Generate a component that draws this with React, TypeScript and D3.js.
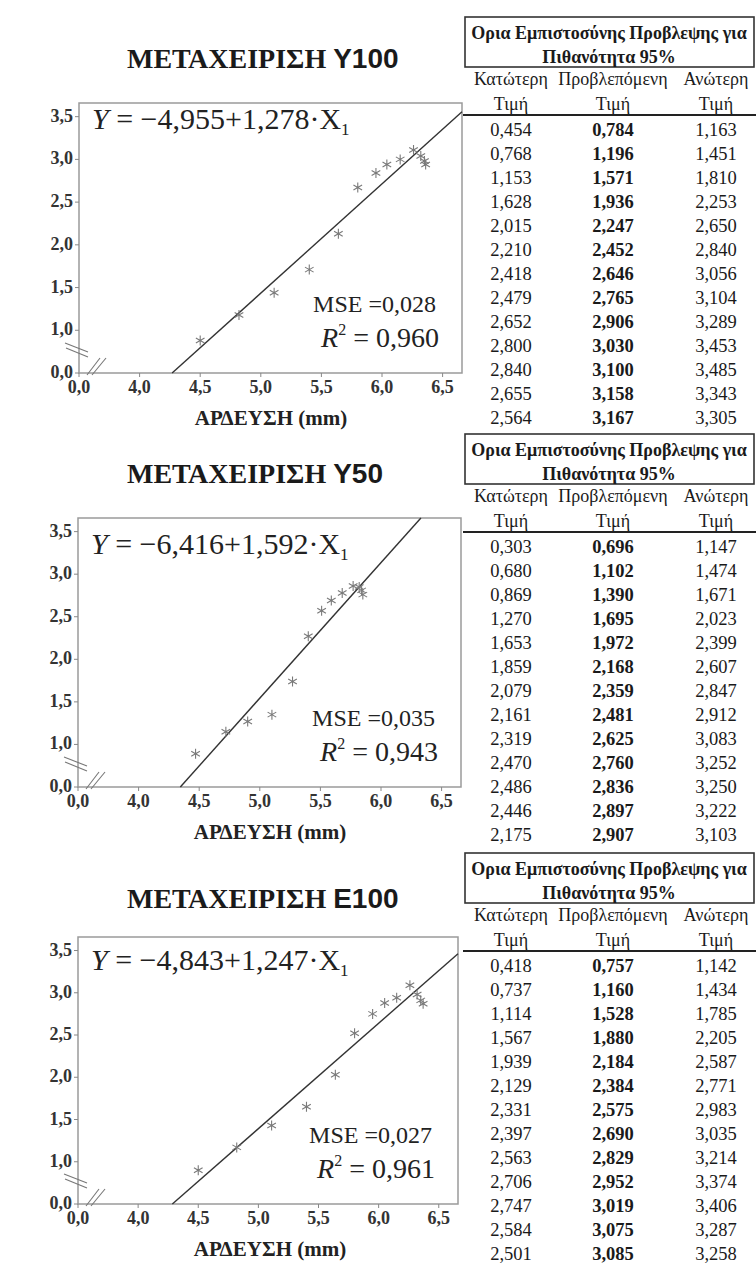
import React from "react";
import * as d3 from "d3";

// ---------- DATA ----------
const treatmentCodes = ["Y100", "Y50", "E100"];
const intercepts = [-4.955, -6.416, -4.843];
const slopes = [1.278, 1.592, 1.247];
const mseLabels = ["0,028", "0,035", "0,027"];
const r2Labels = ["0,960", "0,943", "0,961"];

const xY100 = [4.5, 4.82, 5.11, 5.4, 5.64, 5.8, 5.95, 6.04, 6.15, 6.26, 6.32, 6.35, 6.36];
const yY100 = [0.88, 1.18, 1.44, 1.71, 2.13, 2.67, 2.84, 2.94, 3.0, 3.11, 3.04, 2.98, 2.94];
const xY50 = [4.47, 4.72, 4.9, 5.1, 5.27, 5.4, 5.51, 5.59, 5.68, 5.77, 5.82, 5.84, 5.85];
const yY50 = [0.89, 1.15, 1.27, 1.35, 1.74, 2.27, 2.57, 2.69, 2.78, 2.86, 2.85, 2.81, 2.76];
const xE100 = [4.5, 4.82, 5.11, 5.4, 5.64, 5.8, 5.95, 6.05, 6.15, 6.26, 6.32, 6.35, 6.37];
const yE100 = [0.9, 1.17, 1.43, 1.65, 2.03, 2.52, 2.75, 2.88, 2.94, 3.09, 2.98, 2.91, 2.87];

const xTickValues = [3.5, 4.0, 4.5, 5.0, 5.5, 6.0, 6.5];
const xTickLabels = ["0,0", "4,0", "4,5", "5,0", "5,5", "6,0", "6,5"];
const yTickValues = [0.5, 1.0, 1.5, 2.0, 2.5, 3.0, 3.5];
const yTickLabels = ["0,0", "1,0", "1,5", "2,0", "2,5", "3,0", "3,5"];
const xDomain = [3.5, 6.66];
const yDomain = [0.5, 3.66];

const lowerY100 = [0.454, 0.768, 1.153, 1.628, 2.015, 2.21, 2.418, 2.479, 2.652, 2.8, 2.84, 2.655, 2.564];
const predY100 = [0.784, 1.196, 1.571, 1.936, 2.247, 2.452, 2.646, 2.765, 2.906, 3.03, 3.1, 3.158, 3.167];
const upperY100 = [1.163, 1.451, 1.81, 2.253, 2.65, 2.84, 3.056, 3.104, 3.289, 3.453, 3.485, 3.343, 3.305];
const lowerY50 = [0.303, 0.68, 0.869, 1.27, 1.653, 1.859, 2.079, 2.161, 2.319, 2.47, 2.486, 2.446, 2.175];
const predY50 = [0.696, 1.102, 1.39, 1.695, 1.972, 2.168, 2.359, 2.481, 2.625, 2.76, 2.836, 2.897, 2.907];
const upperY50 = [1.147, 1.474, 1.671, 2.023, 2.399, 2.607, 2.847, 2.912, 3.083, 3.252, 3.25, 3.222, 3.103];
const lowerE100 = [0.418, 0.737, 1.114, 1.567, 1.939, 2.129, 2.331, 2.397, 2.563, 2.706, 2.747, 2.584, 2.501];
const predE100 = [0.757, 1.16, 1.528, 1.88, 2.184, 2.384, 2.575, 2.69, 2.829, 2.952, 3.019, 3.075, 3.085];
const upperE100 = [1.142, 1.434, 1.785, 2.205, 2.587, 2.771, 2.983, 3.035, 3.214, 3.374, 3.406, 3.287, 3.258];

const tableTitle1 = "Ορια Εμπιστοσύνης Προβλεψης για";
const tableTitle2 = "Πιθανότητα 95%";
const colHeaders = ["Κατώτερη", "Προβλεπόμενη", "Ανώτερη"];
const colSub = "Τιμή";
const xAxisTitle = "ΑΡΔΕΥΣΗ (mm)";
const titlePrefix = "ΜΕΤΑΧΕΙΡΙΣΗ ";

// ---------- LAYOUT ----------
const W = 756;
const H = 1263;
const SERIF = "'Liberation Serif', 'Times New Roman', Times, serif";
const SANS = "'Liberation Sans', Arial, Helvetica, sans-serif";

const panels = [
  { top: 103, bottom: 373, left: 79, right: 462, titleY: 68, eqY: 129, tableTop: 17 },
  { top: 518, bottom: 787, left: 78, right: 461, titleY: 483, eqY: 554, tableTop: 434 },
  { top: 937, bottom: 1204, left: 78, right: 458, titleY: 908, eqY: 970, tableTop: 853 },
];

const seriesX = [xY100, xY50, xE100];
const seriesY = [yY100, yY50, yE100];
const tables = [
  [lowerY100, predY100, upperY100],
  [lowerY50, predY50, upperY50],
  [lowerE100, predE100, upperE100],
];

const fmt = (v: number) => v.toFixed(3).replace(".", ",");
const starPath = d3.symbol().type(d3.symbolAsterisk).size(70)() as string;

function Panel({ i }: { i: number }) {
  const p = panels[i];
  const x = d3.scaleLinear().domain(xDomain).range([p.left, p.right]);
  const y = d3.scaleLinear().domain(yDomain).range([p.bottom, p.top]);
  const a = intercepts[i];
  const b = slopes[i];
  const x0 = (yDomain[0] - a) / b;
  const xTop = (yDomain[1] - a) / b;
  const x1 = Math.min(xDomain[1], xTop);
  const lineGen = d3
    .line<number>()
    .x((d) => x(d))
    .y((d) => y(a + b * d));
  const xs = seriesX[i];
  const ys = seriesY[i];
  const L = p.left;
  const B = p.bottom;
  return (
    <g>
      <text x={127} y={p.titleY} fontWeight="bold" fontSize={28} fill="#1a1a1a">
        <tspan fontFamily={SERIF}>{titlePrefix}</tspan>
        <tspan fontFamily={SANS}>{treatmentCodes[i]}</tspan>
      </text>
      <rect
        x={p.left}
        y={p.top}
        width={p.right - p.left}
        height={p.bottom - p.top}
        fill="#fff"
        stroke="#9a9a9a"
        strokeWidth={1.5}
      />
      {/* y ticks */}
      {yTickValues.map((v, k) => (
        <g key={"yt" + k}>
          <line x1={L - 4} x2={L} y1={y(v)} y2={y(v)} stroke="#888" strokeWidth={1} />
          <text
            x={L - 6}
            y={y(v) + 5}
            textAnchor="end"
            fontFamily={SERIF}
            fontWeight="bold"
            fontSize={18}
            fill="#333"
          >
            {yTickLabels[k]}
          </text>
        </g>
      ))}
      {/* x ticks */}
      {xTickValues.map((v, k) => (
        <g key={"xt" + k}>
          <line x1={x(v)} x2={x(v)} y1={B} y2={B + 4} stroke="#888" strokeWidth={1} />
          <text
            x={x(v)}
            y={B + 20}
            textAnchor="middle"
            fontFamily={SERIF}
            fontWeight="bold"
            fontSize={18}
            fill="#333"
          >
            {xTickLabels[k]}
          </text>
        </g>
      ))}
      {/* axis breaks */}
      <g stroke="#777" strokeWidth={1.1}>
        <line x1={L - 14} y1={B - 30} x2={L + 9} y2={B - 21} />
        <line x1={L - 13} y1={B - 25} x2={L + 9} y2={B - 16} />
        <line x1={L + 8} y1={B + 2} x2={L + 21} y2={B - 15} />
        <line x1={L + 13} y1={B + 2} x2={L + 27} y2={B - 15} />
      </g>
      {/* regression line */}
      <path d={lineGen([x0, x1]) as string} fill="none" stroke="#333" strokeWidth={1.4} />
      {/* points */}
      {xs.map((v, k) => (
        <path
          key={"pt" + k}
          d={starPath}
          transform={`translate(${x(v)},${y(ys[k])})`}
          fill="none"
          stroke="#7a7a7a"
          strokeWidth={1.1}
        />
      ))}
      {/* equation */}
      <text x={L + 13} y={p.eqY} fontFamily={SERIF} fontSize={30} fill="#222">
        <tspan fontStyle="italic">Y</tspan>
        <tspan>{` = −${Math.abs(a).toFixed(3).replace(".", ",")}+${b.toFixed(3).replace(".", ",")}·X`}</tspan>
        <tspan fontSize={17} dy={6}>1</tspan>
      </text>
      <text x={p.right - 26} y={B - 61} textAnchor="end" fontFamily={SERIF} fontSize={24} fill="#222">
        {`MSE =${mseLabels[i]}`}
      </text>
      <text x={p.right - 23} y={B - 26} textAnchor="end" fontFamily={SERIF} fontSize={28} fill="#222">
        <tspan fontStyle="italic">R</tspan>
        <tspan fontSize={16} dy={-12}>2</tspan>
        <tspan dy={12}>{` = ${r2Labels[i]}`}</tspan>
      </text>
      <text
        x={L + 192}
        y={B + 52}
        textAnchor="middle"
        fontFamily={SERIF}
        fontWeight="bold"
        fontSize={21}
        fill="#222"
      >
        {xAxisTitle}
      </text>
    </g>
  );
}

function Table({ i }: { i: number }) {
  const T = panels[i].tableTop;
  const cols = [511, 613, 716];
  const rows = d3.range(tables[i][0].length);
  const rowY = d3.scaleLinear().domain([0, 1]).range([T + 113, T + 137]);
  return (
    <g fontFamily={SERIF} fill="#1a1a1a">
      <rect x={465} y={T} width={289} height={50} fill="none" stroke="#333" strokeWidth={1.6} />
      <text x={609} y={T + 22} textAnchor="middle" fontWeight="bold" fontSize={18}>
        {tableTitle1}
      </text>
      <text x={609} y={T + 46} textAnchor="middle" fontWeight="bold" fontSize={18}>
        {tableTitle2}
      </text>
      {colHeaders.map((h, c) => (
        <g key={"h" + c}>
          <text x={cols[c]} y={T + 68} textAnchor="middle" fontSize={18}>
            {h}
          </text>
          <text x={cols[c]} y={T + 93} textAnchor="middle" fontSize={18}>
            {colSub}
          </text>
        </g>
      ))}
      <line x1={463} x2={756} y1={T + 98} y2={T + 98} stroke="#222" strokeWidth={2} />
      {rows.map((r) => (
        <g key={"r" + r}>
          {tables[i].map((col, c) => (
            <text
              key={c}
              x={cols[c]}
              y={rowY(r) + 6}
              textAnchor="middle"
              fontSize={18.5}
              fontWeight={c === 1 ? "bold" : "normal"}
            >
              {fmt(col[r])}
            </text>
          ))}
        </g>
      ))}
    </g>
  );
}

export default function App() {
  return (
    <svg
      width={W}
      height={H}
      viewBox={`0 0 ${W} ${H}`}
      style={{ position: "absolute", left: 0, top: 0, background: "#fff" }}
    >
      <rect x={0} y={0} width={W} height={H} fill="#fff" />
      {[0, 1, 2].map((i) => (
        <g key={i}>
          <Panel i={i} />
          <Table i={i} />
        </g>
      ))}
    </svg>
  );
}
